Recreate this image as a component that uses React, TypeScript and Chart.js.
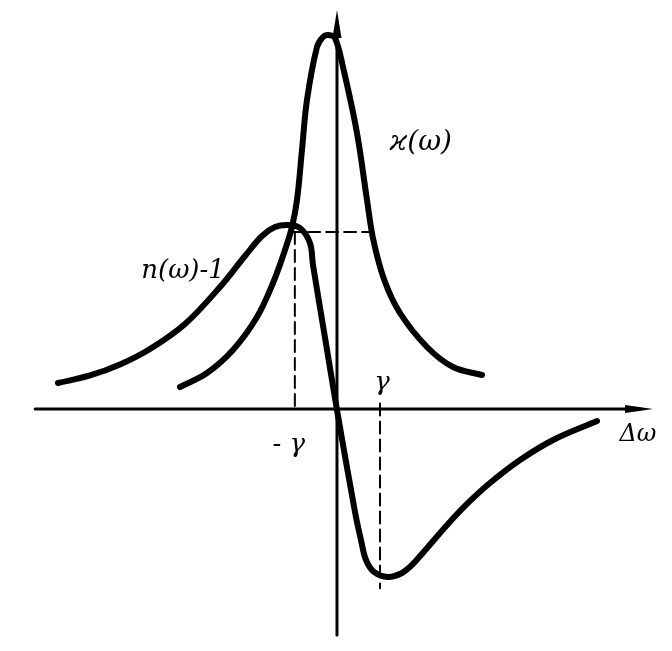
import React, { useEffect, useRef } from "react";
import { Chart, registerables } from "chart.js";

Chart.register(...registerables);

// Frequency detuning in units of gamma; values in units where peak of kappa ~ 10
const kappaX = [-3.651, -3.023, -2.419, -1.86, -1.488, -1.209, -1.047, -0.93, -0.814, -0.698, -0.465, -0.326, -0.209, -0.047, 0.14, 0.465, 0.698, 0.84, 1.1, 1.465, 2.093, 2.698, 3.372];
const kappaY = [0.588, 0.963, 1.578, 2.46, 3.369, 4.251, 4.866, 5.588, 6.925, 8.262, 9.679, 9.947, 10.0, 9.92, 9.144, 7.38, 5.588, 4.55, 3.45, 2.567, 1.658, 1.123, 0.909];

const dispX = [-6.488, -5.744, -5.047, -4.349, -3.535, -2.721, -2.14, -1.744, -1.442, -1.14, -0.86, -0.628, -0.558, -0.279, 0, 0.419, 0.558, 0.674, 0.86, 1.186, 1.512, 1.744, 2.116, 2.581, 3.047, 3.558, 4.256, 5.07, 6.047];
const dispY = [0.695, 0.896, 1.19, 1.604, 2.273, 3.262, 4.091, 4.626, 4.866, 4.92, 4.84, 4.439, 3.85, 1.912, -0.027, -2.754, -3.503, -4.037, -4.358, -4.492, -4.385, -4.171, -3.69, -3.075, -2.513, -1.979, -1.364, -0.802, -0.321];

const xAxisRange = [-7.02, 7.35];
const yAxisRange = [-6.04, 10.67];
const gamma = 1;
const crossLevel = 4.73;

const labels = [
  { text: "ϰ(ω)", x: 1.95, y: 7.11, size: 28 },
  { text: "n(ω)-1", x: -3.58, y: 3.69, size: 26 },
  { text: "- γ", x: -1.12, y: -0.96, size: 26 },
  { text: "γ", x: 1.05, y: 0.7, size: 26 },
  { text: "Δω", x: 7.0, y: -0.7, size: 24 },
];

const pts = (xs: number[], ys: number[]) => xs.map((x, i) => ({ x, y: ys[i] }));

export default function App() {
  const ref = useRef<HTMLCanvasElement | null>(null);
  useEffect(() => {
    if (!ref.current) return;
    const overlay = {
      id: "overlay",
      afterDatasetsDraw(chart: any) {
        const ctx = chart.ctx;
        const xs = chart.scales.x;
        const ys = chart.scales.y;
        ctx.save();
        ctx.fillStyle = "#000";
        const tx = xs.getPixelForValue(xAxisRange[1]);
        const ty = ys.getPixelForValue(0);
        ctx.beginPath();
        ctx.moveTo(tx, ty);
        ctx.lineTo(tx - 28, ty - 4);
        ctx.lineTo(tx - 28, ty + 4);
        ctx.closePath();
        ctx.fill();
        const ux = xs.getPixelForValue(0);
        const uy = ys.getPixelForValue(yAxisRange[1]);
        ctx.beginPath();
        ctx.moveTo(ux, uy);
        ctx.lineTo(ux - 4.5, uy + 28);
        ctx.lineTo(ux + 4.5, uy + 28);
        ctx.closePath();
        ctx.fill();
        ctx.textAlign = "center";
        ctx.textBaseline = "middle";
        for (const l of labels) {
          ctx.font = `italic ${l.size}px "DejaVu Serif"`;
          ctx.fillText(l.text, xs.getPixelForValue(l.x), ys.getPixelForValue(l.y));
        }
        ctx.restore();
      },
    };
    const line = (data: any, w: number, dash: number[] = [], smooth = 0) => ({
      data,
      showLine: true,
      borderColor: "#000",
      borderWidth: w,
      borderDash: dash,
      pointRadius: 0,
      fill: false,
      borderCapStyle: "round",
      borderJoinStyle: "round",
      tension: smooth,
    });
    const chart = new Chart(ref.current, {
      type: "scatter",
      data: {
        datasets: [
          line([{ x: xAxisRange[0], y: 0 }, { x: xAxisRange[1] - 0.3, y: 0 }], 3),
          line([{ x: 0, y: yAxisRange[0] }, { x: 0, y: yAxisRange[1] - 0.5 }], 3),
          line([{ x: -1.09, y: crossLevel }, { x: 0.81, y: crossLevel }], 2, [12, 6]),
          line([{ x: -gamma + 0.02, y: crossLevel }, { x: -gamma + 0.02, y: 0 }], 2, [12, 6]),
          line([{ x: gamma, y: 0.15 }, { x: gamma, y: -4.79 }], 2, [12, 6]),
          line(pts(kappaX, kappaY), 6, [], 0.35),
          line(pts(dispX, dispY), 6, [], 0.35),
        ] as any,
      },
      options: {
        animation: false,
        responsive: true,
        maintainAspectRatio: false,
        layout: { padding: 0 },
        plugins: { legend: { display: false }, tooltip: { enabled: false } },
        scales: {
          x: { type: "linear", display: false, min: -7.837, max: 7.791 },
          y: { type: "linear", display: false, min: -6.471, max: 10.936 },
        },
      },
      plugins: [overlay],
    } as any);
    return () => chart.destroy();
  }, []);
  return (
    <div style={{ position: "fixed", left: 0, top: 0, width: 672, height: 651, background: "#fff" }}>
      <canvas ref={ref} />
    </div>
  );
}
